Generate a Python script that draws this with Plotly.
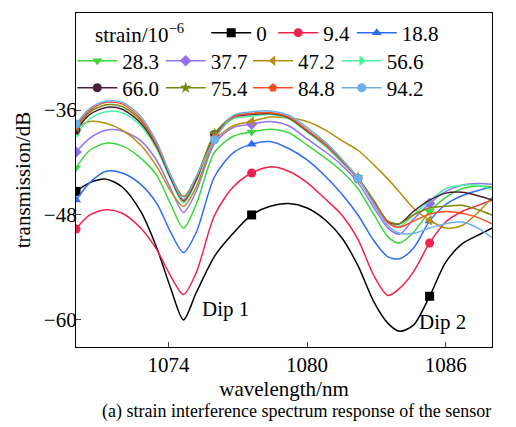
import plotly.graph_objects as go

# ---------------- data ----------------
wavelength = [1070.0, 1070.6, 1071.3, 1072.0, 1072.8, 1073.5, 1074.1, 1074.65, 1075.2,
              1076.0, 1076.8, 1077.6, 1078.4, 1079.2, 1080.0, 1080.8, 1081.5, 1082.2,
              1082.9, 1083.5, 1084.0, 1084.6, 1085.3, 1086.0, 1086.7, 1087.4, 1088.0]

strain_labels = ["0", "9.4", "18.8", "28.3", "37.7", "47.2", "56.6", "66.0", "75.4", "84.8", "94.2"]

t_0 = [-45.3, -44.3, -43.9, -44.8, -47.6, -51.8, -56.4, -60.0, -56.9, -52.7, -50.1, -48.0, -47.0, -46.7,
       -47.2, -48.6, -50.6, -53.8, -58.0, -60.4, -61.3, -60.6, -57.3, -53.4, -51.3, -50.3, -49.5]
t_9_4 = [-49.6, -48.0, -47.4, -47.8, -49.5, -52.0, -55.0, -57.1, -54.6, -48.0, -44.8, -43.2, -42.5, -43.0,
         -44.3, -46.2, -48.0, -50.8, -55.0, -57.2, -56.4, -54.5, -51.2, -48.8, -47.6, -46.9, -46.3]
t_18_8 = [-46.3, -44.3, -43.0, -43.2, -44.5, -46.7, -50.0, -52.3, -50.0, -43.6, -40.9, -39.9, -39.6, -40.4,
          -41.7, -43.6, -45.6, -48.0, -51.0, -52.8, -53.0, -51.8, -48.7, -46.8, -45.8, -45.2, -44.8]
t_28_3 = [-42.6, -40.6, -39.8, -40.1, -41.5, -43.5, -46.8, -49.5, -46.8, -40.8, -39.0, -38.5, -38.2, -38.6,
          -40.0, -41.5, -43.0, -45.0, -48.0, -50.5, -51.2, -50.0, -47.6, -46.0, -45.0, -44.7, -44.8]
t_37_7 = [-40.8, -39.2, -38.3, -38.4, -39.5, -41.8, -45.0, -47.7, -45.3, -39.8, -38.0, -37.6, -37.3, -37.8,
          -39.3, -40.8, -42.3, -44.3, -47.2, -49.5, -50.2, -48.5, -46.7, -45.3, -44.6, -44.4, -44.5]
t_47_2 = [-38.0, -37.3, -37.5, -38.3, -40.0, -42.5, -45.3, -47.0, -44.8, -39.5, -37.8, -37.3, -36.8, -36.9,
          -37.3, -38.3, -39.5, -40.6, -42.3, -43.9, -45.4, -47.2, -48.6, -49.5, -49.2, -47.7, -46.0]
t_56_6 = [-38.8, -37.0, -36.2, -36.3, -37.8, -40.5, -44.0, -46.6, -44.2, -39.0, -37.0, -36.7, -36.5, -37.0,
          -38.5, -40.2, -42.0, -43.9, -46.5, -48.8, -49.3, -48.0, -46.4, -45.0, -44.6, -44.6, -45.1]
t_66_0 = [-38.3, -36.5, -35.7, -35.9, -37.5, -40.2, -43.8, -46.4, -44.0, -38.8, -36.8, -36.5, -36.4, -36.9,
          -38.4, -40.0, -41.8, -43.8, -46.5, -48.8, -49.0, -47.6, -46.3, -45.5, -45.4, -45.8, -46.3]
t_75_4 = [-38.0, -36.2, -35.4, -35.6, -37.2, -40.0, -43.5, -45.9, -43.7, -38.7, -36.7, -36.4, -36.3, -36.8,
          -38.3, -39.9, -41.7, -43.7, -46.4, -48.7, -49.0, -48.0, -47.2, -47.0, -46.9, -47.4, -48.0]
t_84_8 = [-37.8, -36.0, -35.1, -35.3, -37.0, -40.0, -43.6, -46.3, -43.8, -39.2, -36.8, -36.4, -36.3, -36.8,
          -38.3, -40.0, -41.8, -43.9, -46.6, -48.9, -49.4, -48.7, -47.9, -47.6, -47.8, -48.3, -49.0]
t_94_2 = [-37.6, -35.8, -35.0, -35.1, -36.7, -39.7, -43.5, -46.2, -43.6, -39.4, -36.6, -36.2, -36.1, -36.6,
          -38.0, -39.7, -41.6, -43.8, -46.8, -49.2, -50.1, -50.1, -49.5, -49.0, -48.8, -49.5, -50.6]

series_values = [t_0, t_9_4, t_18_8, t_28_3, t_37_7, t_47_2, t_56_6, t_66_0, t_75_4, t_84_8, t_94_2]

marker_x_low = [1070.0, 1077.6, 1085.3]    # marker wavelengths of the first six series
marker_x_high = [1070.0, 1076.0, 1082.2]   # marker wavelengths of the last five series

x_ticks = [1074, 1080, 1086]
y_ticks = [-60, -48, -36]

# ---------------- styles ----------------
colors = ["#000000", "#F0234E", "#2D6CF5", "#3BD63B", "#9470F2", "#B88F0C",
          "#4CF2A2", "#4A1E38", "#788A10", "#FF4B1E", "#6BB0EC"]
symbols = ["square", "circle", "triangle-up", "triangle-down", "diamond", "triangle-left",
           "triangle-right", "circle", "star", "pentagon", "circle"]
CLEAR = "rgba(0,0,0,0)"

# legend entry placement (paper coords): one legend box per entry
legend_x = [0.313, 0.474, 0.663,
            -0.0089, 0.2036, 0.4135, 0.6267,
            -0.0089, 0.2036, 0.4135, 0.6267]
legend_y = [0.94] * 3 + [0.856] * 4 + [0.775] * 4

FONT = "Liberation Serif, Times New Roman, serif"
FS = 21

fig = go.Figure()
layout_legends = {}
for i, (lab, vals) in enumerate(zip(strain_labels, series_values)):
    mk = marker_x_low if i < 6 else marker_x_high
    mcolors = [colors[i] if w in mk else CLEAR for w in wavelength]
    lid = "legend" if i == 0 else f"legend{i + 1}"
    fig.add_trace(go.Scatter(
        x=wavelength, y=vals, name=lab, mode="lines+markers", showlegend=True,
        line=dict(color=colors[i], width=1.5, shape="spline", smoothing=0.8),
        marker=dict(symbol=symbols[i], size=9, color=mcolors, line=dict(width=0)),
        legend=lid,
    ))
    layout_legends[lid] = dict(
        orientation="h", bgcolor="rgba(0,0,0,0)", borderwidth=0,
        font=dict(family=FONT, size=FS, color="black"), itemwidth=40,
        x=legend_x[i], y=legend_y[i], xanchor="left", yanchor="middle")

fig.add_annotation(x=1075.35, y=-58.8, text="Dip 1", showarrow=False, xanchor="left",
                   yanchor="middle", font=dict(family=FONT, size=FS, color="black"))
fig.add_annotation(x=1084.75, y=-60.2, text="Dip 2", showarrow=False, xanchor="left",
                   yanchor="middle", font=dict(family=FONT, size=FS, color="black"))
fig.add_annotation(xref="paper", yref="paper", x=0.531, y=-0.193,
                   text="(a) strain interference spectrum response of the sensor",
                   showarrow=False, xanchor="center", yanchor="middle",
                   font=dict(family=FONT, size=18, color="black"))
# legend heading
fig.add_annotation(xref="paper", yref="paper", x=0.0409, y=0.94,
                   text="strain/10<sup>−6</sup>", showarrow=False, xanchor="left",
                   yanchor="middle", font=dict(family=FONT, size=FS, color="black"))

fig.update_layout(
    width=516, height=427,
    showlegend=True,
    margin=dict(l=76, r=24, t=13, b=80, autoexpand=False),
    paper_bgcolor="white", plot_bgcolor="white",
    font=dict(family=FONT, size=FS, color="black"),
    xaxis=dict(range=[1070, 1088], tickvals=x_ticks, ticks="inside", ticklen=5,
               showline=True, linecolor="black", linewidth=1.2, mirror=True,
               showgrid=False, zeroline=False, automargin=False, ticklabelstandoff=-1,
               tickfont=dict(family=FONT, size=FS),
               title=dict(text="wavelength/nm", font=dict(family=FONT, size=FS), standoff=5)),
    yaxis=dict(range=[-63.1, -24.9], tickvals=y_ticks, ticktext=["−60", "−48", "−36"],
               ticks="inside", ticklen=5,
               showline=True, linecolor="black", linewidth=1.2, mirror=True,
               showgrid=False, zeroline=False, automargin=False, ticklabelstandoff=-6,
               tickfont=dict(family=FONT, size=FS),
               title=dict(text="transmission/dB", font=dict(family=FONT, size=FS), standoff=7)),
    **layout_legends,
)

fig.write_html("out.html", config={"displayModeBar": False},
               post_script="document.body.style.margin='0px';")
